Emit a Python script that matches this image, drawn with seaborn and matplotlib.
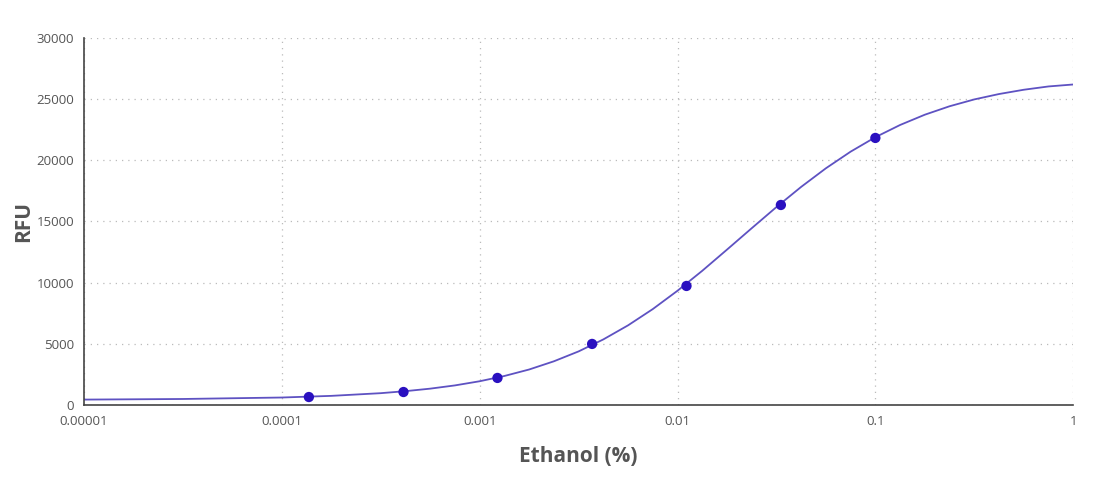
import matplotlib
matplotlib.use("Agg")
import matplotlib.pyplot as plt
import matplotlib.ticker as ticker
import seaborn as sns
import numpy as np
import pandas as pd

# Measured points (ethanol %, RFU)
ethanol_pct = [0.000137, 0.000412, 0.00123, 0.0037, 0.0111, 0.0333, 0.1]
rfu = [650, 1060, 2210, 4990, 9730, 16350, 21830]

# Fitted curve (log10 of ethanol %, RFU)
curve_log_x = [-5.0, -4.5, -4.0, -3.75, -3.5, -3.375, -3.25, -3.125, -3.0, -2.875,
               -2.75, -2.625, -2.5, -2.375, -2.25, -2.125, -2.0, -1.875, -1.75,
               -1.625, -1.5, -1.375, -1.25, -1.125, -1.0, -0.875, -0.75, -0.625,
               -0.5, -0.375, -0.25, -0.125, 0.0]
curve_rfu = [440, 490, 610, 745, 965, 1130, 1335, 1600, 1940, 2370,
             2900, 3570, 4380, 5360, 6510, 7840, 9340, 10970, 12700,
             14450, 16180, 17830, 19350, 20710, 21890, 22890, 23730, 24420,
             24980, 25420, 25770, 26040, 26200]

x_ticks = [0.00001, 0.0001, 0.001, 0.01, 0.1, 1]
x_tick_labels = ["0.00001", "0.0001", "0.001", "0.01", "0.1", "1"]
y_ticks = [0, 5000, 10000, 15000, 20000, 25000, 30000]

points = pd.DataFrame({"x": ethanol_pct, "y": rfu})
curve = pd.DataFrame({"x": [10 ** v for v in curve_log_x], "y": curve_rfu})

sns.set_theme(style="white")
plt.rcParams["font.family"] = ["Open Sans", "DejaVu Sans"]

fig = plt.figure(figsize=(10.95, 4.91), dpi=100)
ax = fig.add_axes([0.0767, 0.1752, 0.9034, 0.7474])

sns.lineplot(data=curve, x="x", y="y", color="#5e52c2", linewidth=1.3, ax=ax)
sns.scatterplot(data=points, x="x", y="y", color="#2a10c0", s=55,
                edgecolor="none", zorder=3, ax=ax)

ax.set_xscale("log")
ax.set_xlim(0.00001, 1)
ax.set_ylim(0, 30000)
ax.set_xticks(x_ticks)
ax.set_xticklabels(x_tick_labels)
ax.xaxis.set_minor_locator(ticker.NullLocator())
ax.set_yticks(y_ticks)
ax.set_yticklabels([str(v) for v in y_ticks])

ax.grid(True, which="major", linestyle=(0, (1, 4)), color="#bbbbbb", linewidth=0.9)
ax.set_axisbelow(True)

for s in ["top", "right"]:
    ax.spines[s].set_visible(False)
for s in ["left", "bottom"]:
    ax.spines[s].set_color("#444444")
    ax.spines[s].set_linewidth(1.2)

ax.tick_params(axis="both", which="major", direction="out", length=5, width=1,
               color="#444444", labelsize=9.5, labelcolor="#555555", pad=2)

ax.set_xlabel("Ethanol (%)", fontsize=15, fontweight="bold", color="#555555", labelpad=13)
ax.set_ylabel("RFU", fontsize=15, fontweight="bold", color="#555555", labelpad=2)

plt.savefig("out.png", dpi=100)
plt.close()
